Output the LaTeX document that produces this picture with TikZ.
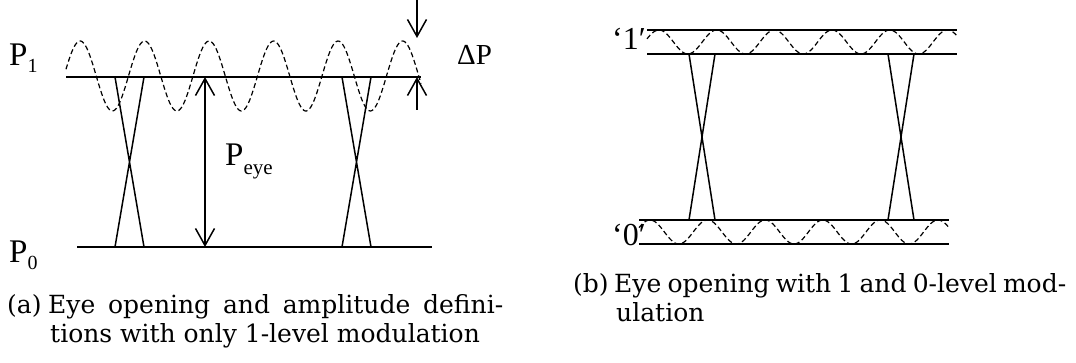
\documentclass[tikz,border=0pt]{standalone}
\usepackage{fontspec}
\usepackage{tikz}
\usetikzlibrary{arrows.meta}
\newfontfamily\lblfont{Liberation Serif}
\newfontfamily\capfont{DejaVu Serif}
\newcommand{\lowsub}[1]{\raisebox{-7pt}{\fontsize{20}{20}\selectfont #1}}

\begin{document}
\begin{tikzpicture}[
    x=1pt, y=-1pt,
    level/.style={line width=1.5pt},
    wave/.style={line width=1.2pt, dash pattern=on 5pt off 3pt},
    dimarrow/.style={line width=1.5pt, {Straight Barb[length=17pt,width=19pt]}-{Straight Barb[length=17pt,width=19pt]}},
    dimhead/.style={line width=1.5pt, -{Straight Barb[length=17pt,width=19pt]}},
    lbl/.style={inner sep=0pt, anchor=base west, font=\lblfont\fontsize{33}{33}\selectfont},
    captxt/.style={inner sep=0pt, anchor=base west, font=\capfont\fontsize{25}{25}\selectfont}
]
    \useasboundingbox (0,0) rectangle (1076,363);

    % (a) only the 1-level is modulated
    \coordinate (a1w) at (66,77);   \coordinate (a1e) at (421,77);
    \coordinate (a0w) at (77,247);  \coordinate (a0e) at (432,247);
    \draw[level] (a1w) -- (a1e);
    \draw[level] (a0w) -- (a0e);
    \draw[wave] plot[domain=66:421, samples=240] (\x, {76 - 35*sin((\x-64)/64.5*360)});
    \draw[level] (115,77) -- (144,247) (144,77) -- (115,247);
    \draw[level] (342,77) -- (371,247) (371,77) -- (342,247);
    \coordinate (eyetop) at (205,77);  \coordinate (eyebot) at (205,247);
    \draw[dimarrow] (eyetop) -- (eyebot);
    \coordinate (dtop) at (417,0);     \coordinate (dpeak) at (417,38);
    \coordinate (dlow) at (417,110);   \coordinate (dline) at (417,77);
    \draw[dimhead] (dtop) -- (dpeak);
    \draw[dimhead] (dlow) -- (dline);
    \node[lbl] (pone) at (9,66) {P\lowsub{1}};
    \node[lbl] (pzero) at (9,263) {P\lowsub{0}};
    \node[lbl] (peye) at (225,166) {P\raisebox{-9pt}{\fontsize{21}{21}\selectfont eye}};
    \node[lbl, font=\lblfont\fontsize{29}{29}\selectfont] (dp) at (457,65) {ΔP};

    % (b) both levels are modulated
    \draw[level] (647,30) -- (957,30) (647,54) -- (957,54);
    \draw[level] (639,220) -- (949,220) (639,244) -- (949,244);
    \draw[wave] plot[domain=647:957, samples=240] (\x, {42 - 12*cos((\x-659)/57.7*360)});
    \draw[wave] plot[domain=639:949, samples=240] (\x, {232 - 12*cos((\x-650)/57.6*360)});
    \draw[level] (689,54) -- (715,220) (715,54) -- (689,220);
    \draw[level] (888,54) -- (914,220) (914,54) -- (888,220);
    \node[lbl, font=\lblfont\fontsize{32}{32}\selectfont] (one) at (612,50) {‘1′};
    \node[lbl, font=\lblfont\fontsize{32}{32}\selectfont] (zero) at (612,246) {‘0′};

    % captions
    \node[captxt] (capa) at (7,313) {(a)};
    \node[captxt] (capatxt) at (48,313) {\makebox[455pt][s]{Eye opening and amplitude defini-}};
    \node[captxt] (capatxtb) at (50,342) {tions with only 1-level modulation};
    \node[captxt] (capb) at (573,293) {(b)};
    \node[captxt] (capbtxt) at (614,293) {\makebox[452pt][s]{Eye opening with 1 and 0-level mod-}};
    \node[captxt] (capbtxtb) at (616,321) {ulation};
\end{tikzpicture}
\end{document}
